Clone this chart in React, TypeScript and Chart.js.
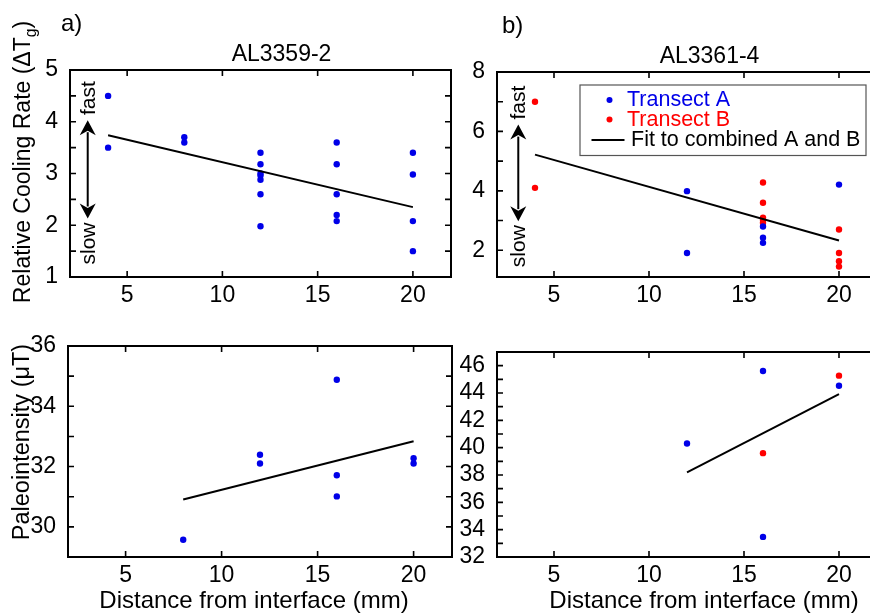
import React, { useEffect, useRef } from "react";
import { Chart, registerables } from "chart.js";
Chart.register(...registerables);

const FONT = '"Liberation Sans", Arial, Helvetica, sans-serif';
const BLUE = "#0000e8";
const RED = "#ff0000";
const TICK_SIZE = 23;

// ---------- shared x axis ----------
const xTickValues = [5, 10, 15, 20];

// ---------- a) AL3359-2 : relative cooling rate ----------
const coolA_x = [4, 4, 8, 8, 12, 12, 12, 12, 12, 12, 12, 16, 16, 16, 16, 16, 20, 20, 20, 20];
const coolA_y = [4.5, 3.5, 3.7, 3.6, 3.4, 3.18, 3.0, 2.96, 2.88, 2.6, 1.98, 3.6, 3.18, 2.6, 2.2, 2.08, 3.4, 2.98, 2.08, 1.5];
const coolA_fitX = [4, 20];
const coolA_fitY = [3.74, 2.35];
const coolA_yTicks = [1, 1.5, 2, 2.5, 3, 3.5, 4, 4.5, 5];
const coolA_yLabels = [1, 2, 3, 4, 5];

// ---------- b) AL3361-4 : relative cooling rate ----------
const coolB_transA_x = [12, 12, 16, 16, 16, 20];
const coolB_transA_y = [3.99, 1.91, 2.8, 2.42, 2.25, 4.21];
const coolB_transB_x = [4, 4, 16, 16, 16, 16, 16, 20, 20, 20, 20];
const coolB_transB_y = [7.0, 4.1, 4.28, 3.6, 3.1, 3.02, 2.93, 2.7, 1.91, 1.63, 1.45];
const coolB_fitX = [4, 20];
const coolB_fitY = [5.22, 2.33];
const coolB_yTicks = [2, 3, 4, 5, 6, 7, 8];
const coolB_yLabels = [2, 4, 6, 8];

// ---------- a) paleointensity ----------
const pintA_x = [8, 12, 12, 16, 16, 16, 20, 20];
const pintA_y = [29.57, 32.39, 32.1, 34.88, 31.71, 31.01, 32.28, 32.1];
const pintA_fitX = [8, 20];
const pintA_fitY = [30.91, 32.84];
const pintA_yTicks = [29, 30, 31, 32, 33, 34, 35, 36];
const pintA_yLabels = [30, 32, 34, 36];

// ---------- b) paleointensity ----------
const pintB_transA_x = [12, 16, 16, 20];
const pintB_transA_y = [40.31, 45.61, 33.47, 44.53];
const pintB_transB_x = [16, 20];
const pintB_transB_y = [39.6, 45.27];
const pintB_fitX = [12, 20];
const pintB_fitY = [38.2, 43.92];
const pintB_yTicks = [32, 33, 34, 35, 36, 37, 38, 39, 40, 41, 42, 43, 44, 45, 46, 47];
const pintB_yLabels = [32, 34, 36, 38, 40, 42, 44, 46];

// ---------- texts ----------
const coolTitleParts = [
  { text: "Relative Cooling Rate (\u0394T", sub: false },
  { text: "g", sub: true },
  { text: ")", sub: false },
];
const pintTitleParts = [{ text: "Paleointensity (\u03bcT)", sub: false }];
const xTitleText = "Distance from interface (mm)";
const legendLabels = ["Transect A", "Transect B", "Fit to combined A and B"];

const f = (size: number) => `${size}px ${FONT}`;
const pts = (xs: number[], ys: number[]) => xs.map((x, i) => ({ x, y: ys[i] }));

type Spec = any;

function drawRotated(ctx: CanvasRenderingContext2D, parts: any[], bx: number, cy: number, size: number) {
  ctx.save();
  ctx.translate(bx, cy);
  ctx.rotate(-Math.PI / 2);
  ctx.textBaseline = "alphabetic";
  ctx.textAlign = "left";
  ctx.fillStyle = "#000";
  const subSize = size * 0.68;
  const widths = parts.map((p) => {
    ctx.font = f(p.sub ? subSize : size);
    return ctx.measureText(p.text).width;
  });
  const total = widths.reduce((a: number, b: number) => a + b, 0);
  let x = -total / 2;
  parts.forEach((p, i) => {
    ctx.font = f(p.sub ? subSize : size);
    ctx.fillText(p.text, x, p.sub ? size * 0.28 : 0);
    x += widths[i];
  });
  ctx.restore();
}

const decorPlugin = {
  id: "decor",
  afterDatasetsDraw(chart: any, _a: any, o: any) {
    const ctx: CanvasRenderingContext2D = chart.ctx;
    const ca = chart.chartArea;
    const xs = chart.scales.x;
    const ys = chart.scales.y;
    ctx.save();
    ctx.strokeStyle = "#000";
    ctx.lineWidth = 2;
    ctx.strokeRect(ca.left, ca.top, ca.right - ca.left, ca.bottom - ca.top);
    const TLEN = 6;
    ctx.lineWidth = 1.6;
    ctx.beginPath();
    xs.ticks.forEach((t: any) => {
      const p = xs.getPixelForValue(t.value);
      if (p <= ca.left + 1 || p >= ca.right - 1) return;
      ctx.moveTo(p, ca.bottom);
      ctx.lineTo(p, ca.bottom - TLEN);
      ctx.moveTo(p, ca.top);
      ctx.lineTo(p, ca.top + TLEN);
    });
    ys.ticks.forEach((t: any) => {
      const p = ys.getPixelForValue(t.value);
      if (p <= ca.top + 1 || p >= ca.bottom - 1) return;
      ctx.moveTo(ca.left, p);
      ctx.lineTo(ca.left + TLEN, p);
      ctx.moveTo(ca.right, p);
      ctx.lineTo(ca.right - TLEN, p);
    });
    ctx.stroke();

    if (o.arrow) {
      const a = o.arrow;
      const px = xs.getPixelForValue(a.x);
      const p1 = ys.getPixelForValue(a.top);
      const p2 = ys.getPixelForValue(a.bottom);
      const HL = 15, HW = 8;
      ctx.fillStyle = "#000";
      ctx.lineWidth = 2;
      ctx.beginPath();
      ctx.moveTo(px, p1 + HL - 3);
      ctx.lineTo(px, p2 - HL + 3);
      ctx.stroke();
      ctx.beginPath();
      ctx.moveTo(px, p1);
      ctx.lineTo(px - HW, p1 + HL);
      ctx.lineTo(px, p1 + HL * 0.7);
      ctx.lineTo(px + HW, p1 + HL);
      ctx.closePath();
      ctx.fill();
      ctx.beginPath();
      ctx.moveTo(px, p2);
      ctx.lineTo(px - HW, p2 - HL);
      ctx.lineTo(px, p2 - HL * 0.7);
      ctx.lineTo(px + HW, p2 - HL);
      ctx.closePath();
      ctx.fill();
      const lab = (t: string, y: number) => {
        ctx.save();
        ctx.translate(px, y);
        ctx.rotate(-Math.PI / 2);
        ctx.font = f(21);
        ctx.textAlign = "center";
        ctx.textBaseline = "middle";
        ctx.fillText(t, 0, 1);
        ctx.restore();
      };
      lab(a.upText, p1 - 22);
      lab(a.downText, p2 + 25);
    }
    ctx.restore();
  },
  afterDraw(chart: any, _a: any, o: any) {
    const ctx: CanvasRenderingContext2D = chart.ctx;
    const ox = o.ox, oy = o.oy;
    ctx.save();
    ctx.fillStyle = "#000";
    (o.texts || []).forEach((t: any) => {
      ctx.font = f(t.size);
      ctx.textAlign = t.align || "center";
      ctx.textBaseline = "alphabetic";
      ctx.fillStyle = t.color || "#000";
      ctx.fillText(t.text, t.x - ox, t.y - oy);
    });
    if (o.yTitle) {
      drawRotated(ctx, o.yTitle.parts, o.yTitle.x - ox, o.yTitle.cy - oy, o.yTitle.size);
    }
    if (o.legend) {
      const L = o.legend;
      const ds = chart.data.datasets;
      ctx.fillStyle = "#fff";
      ctx.fillRect(L.x1 - ox, L.y1 - oy, L.x2 - L.x1, L.y2 - L.y1);
      ctx.strokeStyle = "#555";
      ctx.lineWidth = 1.2;
      ctx.strokeRect(L.x1 - ox, L.y1 - oy, L.x2 - L.x1, L.y2 - L.y1);
      ctx.font = f(21.5);
      ctx.textAlign = "left";
      ctx.textBaseline = "alphabetic";
      const rows = [
        { d: ds.find((d: any) => d.label === legendLabels[0]), y: 106, kind: "dot" },
        { d: ds.find((d: any) => d.label === legendLabels[1]), y: 125.5, kind: "dot" },
        { d: ds.find((d: any) => d.label === legendLabels[2]), y: 145.5, kind: "line" },
      ];
      rows.forEach((r) => {
        if (!r.d) return;
        if (r.kind === "dot") {
          ctx.fillStyle = r.d.pointBackgroundColor;
          ctx.beginPath();
          ctx.arc(609.5 - ox, r.y - 6 - oy, 3, 0, Math.PI * 2);
          ctx.fill();
          ctx.fillText(r.d.label, 627 - ox, r.y - oy);
        } else {
          ctx.strokeStyle = "#000";
          ctx.lineWidth = 2;
          ctx.beginPath();
          ctx.moveTo(591.5 - ox, r.y - 5.5 - oy);
          ctx.lineTo(624.5 - ox, r.y - 5.5 - oy);
          ctx.stroke();
          ctx.fillStyle = "#000";
          ctx.fillText(r.d.label, 631 - ox, r.y - oy);
        }
      });
    }
    ctx.restore();
  },
};

const YW = 60;
const XH = 30;

function buildConfig(s: Spec) {
  const datasets: any[] = [
    {
      label: legendLabels[2],
      data: pts(s.fitX, s.fitY),
      showLine: true,
      borderColor: "#000",
      borderWidth: 2,
      pointRadius: 0,
      order: 0,
    },
    {
      label: legendLabels[0],
      data: pts(s.ax, s.ay),
      showLine: false,
      pointRadius: 3.2,
      pointBackgroundColor: BLUE,
      pointBorderWidth: 0,
      backgroundColor: BLUE,
      borderColor: BLUE,
      order: 1,
    },
  ];
  if (s.bx) {
    datasets.push({
      label: legendLabels[1],
      data: pts(s.bx, s.by),
      showLine: false,
      pointRadius: 3.2,
      pointBackgroundColor: RED,
      pointBorderWidth: 0,
      backgroundColor: RED,
      borderColor: RED,
      order: 1,
    });
  }
  const padding = {
    left: s.area.l - s.x - YW,
    right: s.x + s.w - s.area.r,
    top: s.area.t - s.y,
    bottom: s.y + s.h - s.area.b - XH,
  };
  return {
    type: "scatter",
    data: { datasets },
    options: {
      responsive: false,
      animation: false,
      events: [],
      layout: { padding },
      plugins: {
        legend: { display: false },
        tooltip: { enabled: false },
        title: { display: false },
        decor: {
          ox: s.x,
          oy: s.y,
          texts: s.texts,
          yTitle: s.yTitle,
          arrow: s.arrow,
          legend: s.legend,
        },
      },
      scales: {
        x: {
          type: "linear",
          min: 2,
          max: 22,
          afterBuildTicks: (sc: any) => {
            sc.ticks = xTickValues.map((v) => ({ value: v }));
          },
          ticks: {
            font: { family: FONT, size: TICK_SIZE },
            color: "#000",
            padding: -3,
            autoSkip: false,
            maxRotation: 0,
            callback: (v: any) => String(v),
          },
          grid: { display: false },
          border: { display: false },
          afterFit: (sc: any) => {
            sc.height = XH;
          },
        },
        y: {
          type: "linear",
          min: s.yMin,
          max: s.yMax,
          afterBuildTicks: (sc: any) => {
            sc.ticks = s.yTicks.map((v: number) => ({ value: v }));
          },
          ticks: {
            font: { family: FONT, size: TICK_SIZE },
            color: "#000",
            padding: 4,
            autoSkip: false,
            callback: (v: any) => (s.yLabels.includes(v) ? String(v) : ""),
          },
          grid: { display: false },
          border: { display: false },
          afterFit: (sc: any) => {
            sc.width = YW;
          },
        },
      },
    },
    plugins: [decorPlugin],
  };
}

const specs: Spec[] = [
  {
    key: "tl",
    x: 0, y: 0, w: 470, h: 310,
    area: { l: 70, t: 70, r: 451, b: 277 },
    yMin: 1, yMax: 5, yTicks: coolA_yTicks, yLabels: coolA_yLabels,
    ax: coolA_x, ay: coolA_y, fitX: coolA_fitX, fitY: coolA_fitY,
    texts: [
      { text: "a)", x: 61, y: 31, size: 24, align: "left" },
      { text: "AL3359-2", x: 281.5, y: 60.5, size: 23 },
    ],
    yTitle: { parts: coolTitleParts, x: 29.5, cy: 162, size: 23 },
    arrow: { x: 2.93, top: 4.03, bottom: 2.13, upText: "fast", downText: "slow" },
  },
  {
    key: "tr",
    x: 430, y: 0, w: 460, h: 310,
    area: { l: 497, t: 72, r: 877, b: 277 },
    yMin: 1.1, yMax: 8, yTicks: coolB_yTicks, yLabels: coolB_yLabels,
    ax: coolB_transA_x, ay: coolB_transA_y, bx: coolB_transB_x, by: coolB_transB_y,
    fitX: coolB_fitX, fitY: coolB_fitY,
    texts: [
      { text: "b)", x: 502, y: 33, size: 24, align: "left" },
      { text: "AL3361-4", x: 709.5, y: 63.3, size: 23 },
    ],
    arrow: { x: 3.12, top: 6.23, bottom: 2.98, upText: "fast", downText: "slow" },
    legend: { x1: 580, y1: 85, x2: 866, y2: 155.5 },
  },
  {
    key: "bl",
    x: 0, y: 300, w: 470, h: 313,
    area: { l: 68, t: 346, r: 452, b: 557 },
    yMin: 29, yMax: 36, yTicks: pintA_yTicks, yLabels: pintA_yLabels,
    ax: pintA_x, ay: pintA_y, fitX: pintA_fitX, fitY: pintA_fitY,
    texts: [{ text: xTitleText, x: 254, y: 608, size: 24 }],
    yTitle: { parts: pintTitleParts, x: 28.5, cy: 442, size: 23.5 },
  },
  {
    key: "br",
    x: 430, y: 300, w: 460, h: 313,
    area: { l: 497, t: 352, r: 877, b: 557 },
    yMin: 32, yMax: 47, yTicks: pintB_yTicks, yLabels: pintB_yLabels,
    ax: pintB_transA_x, ay: pintB_transA_y, bx: pintB_transB_x, by: pintB_transB_y,
    fitX: pintB_fitX, fitY: pintB_fitY,
    texts: [{ text: xTitleText, x: 704, y: 608, size: 24 }],
  },
];

function Panel({ spec }: { spec: Spec }) {
  const ref = useRef<HTMLCanvasElement>(null);
  useEffect(() => {
    const chart = new Chart(ref.current as HTMLCanvasElement, buildConfig(spec) as any);
    return () => chart.destroy();
  }, []);
  return (
    <canvas
      ref={ref}
      width={spec.w}
      height={spec.h}
      style={{ position: "absolute", left: spec.x, top: spec.y, width: spec.w, height: spec.h }}
    />
  );
}

export default function App() {
  return (
    <div
      style={{
        position: "absolute",
        left: 0,
        top: 0,
        width: 870,
        height: 613,
        overflow: "hidden",
        background: "#fff",
      }}
    >
      {specs.map((s) => (
        <Panel key={s.key} spec={s} />
      ))}
    </div>
  );
}
